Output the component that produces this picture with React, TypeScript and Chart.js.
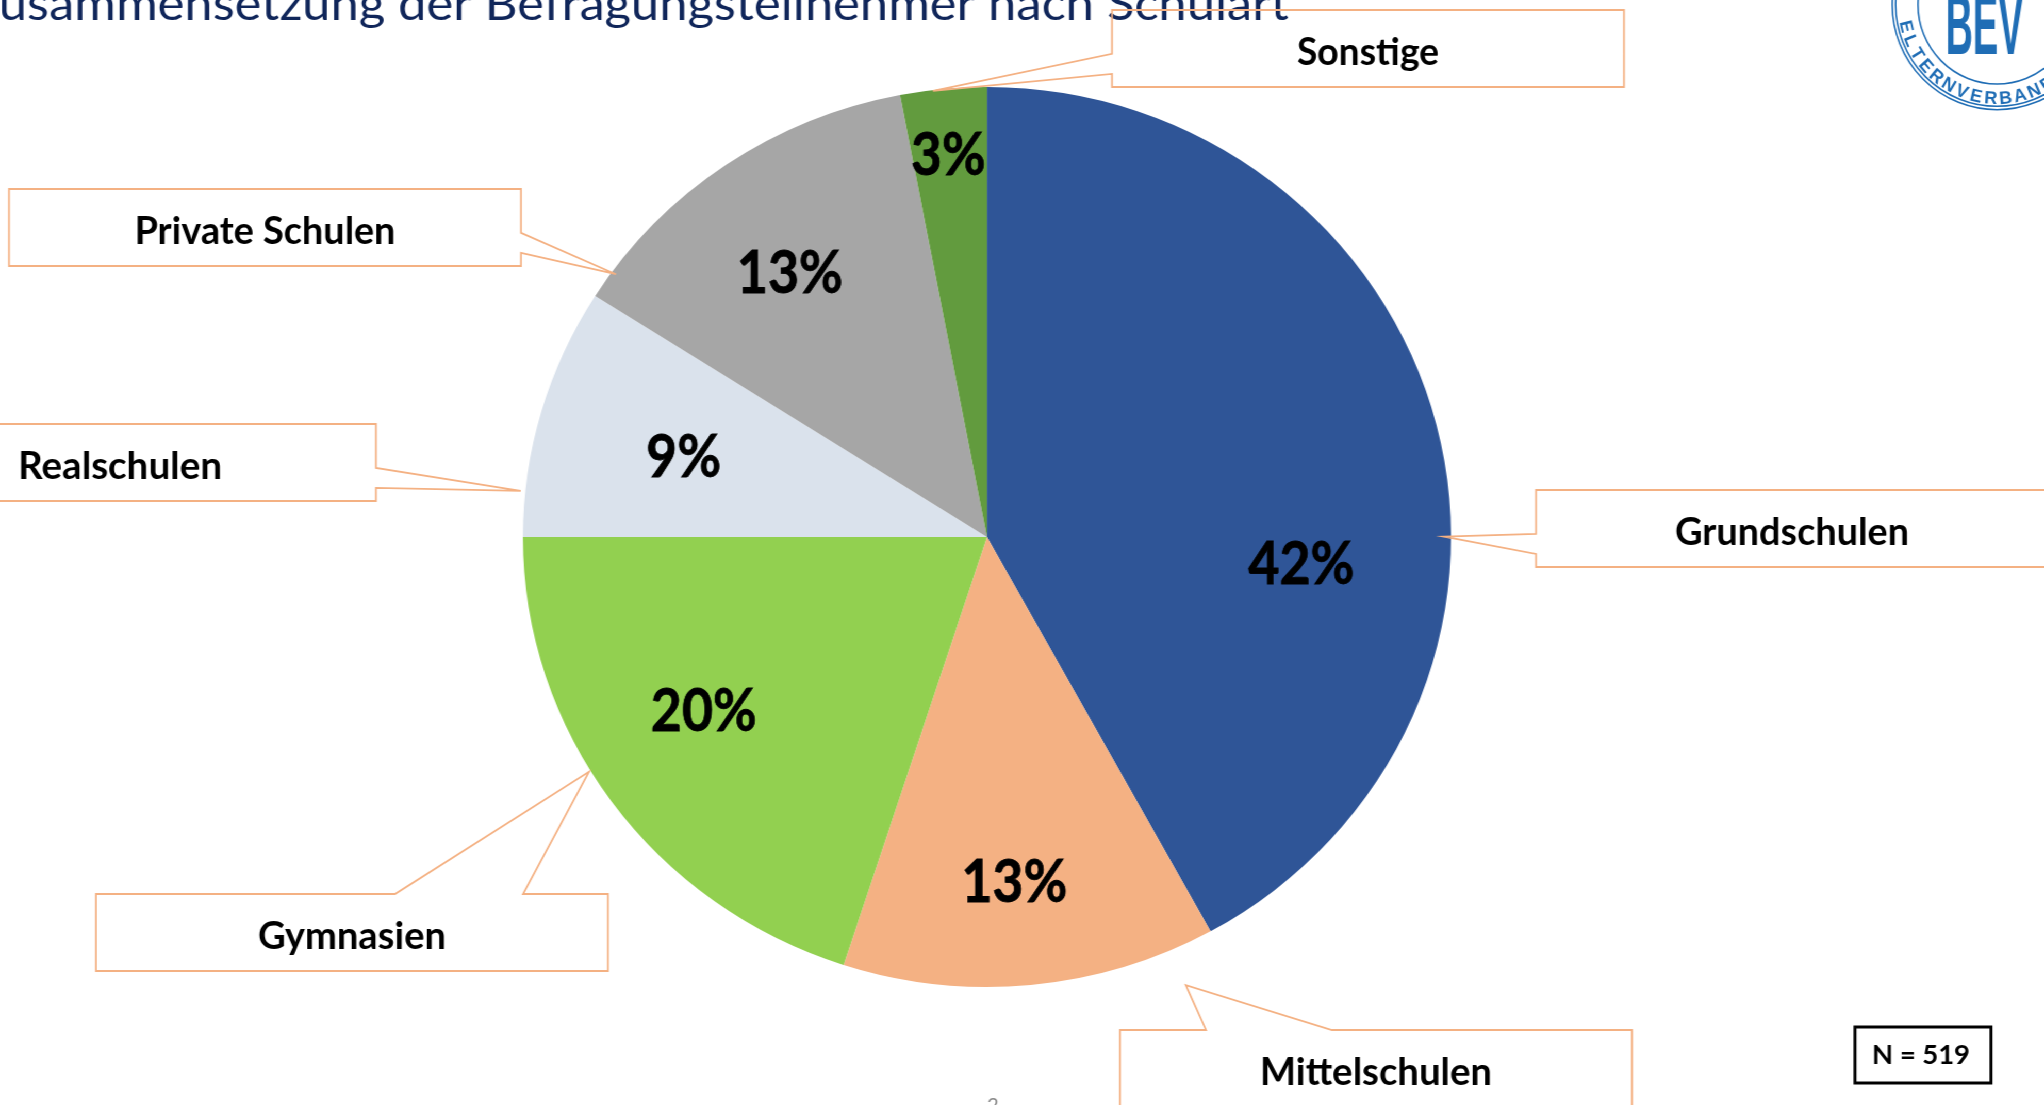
import React, { useEffect, useRef } from 'react';
import { Chart, registerables } from 'chart.js';

Chart.register(...registerables);

// ---------- data ----------
const categories = ['Grundschulen', 'Mittelschulen', 'Gymnasien', 'Realschulen', 'Private Schulen', 'Sonstige'];
const shares = [42, 13, 20, 9, 13, 3];
const sliceColors = ['#2F5597', '#F4B183', '#92D050', '#DAE2EC', '#A6A6A6', '#629B3E'];
const titleText = 'Zusammensetzung der Befragungsteilnehmer nach Schulart';
const sampleLabel = 'N = 519';
const pageNumber = '2';
const logoTitle = 'BEV';
const logoRing = 'ELTERNVERBAND';

// ---------- layout (page pixels) ----------
const PAGE_W = 2044;
const PAGE_H = 1105;
const CANVAS_W = 1982;
const SX = PAGE_W / CANVAS_W; // the slide is slightly stretched horizontally
const PIE_CX = 987;
const PIE_CY = 537;
const PIE_R = 450;

const pctPlacement = [
  { shift: 19.3, r: 0.68 },
  { shift: 1.0, r: 0.767 },
  { shift: 3.8, r: 0.721 },
  { shift: -0.8, r: 0.678 },
  { shift: -1.6, r: 0.726 },
  { shift: -0.2, r: 0.855 },
];

const BOX_W = 512;
const BOX_H = 77;
const callouts = [
  { left: 1536, top: 490, side: 'left', f: [0.57, 0.83], tipFrac: 0.595, tipR: 0.985, textW: 234 },
  { left: 1120, top: 1030, side: 'top', f: [0.168, 0.414], tipFrac: 0.118, tipR: 1.084, textW: 232 },
  { left: 96, top: 894, side: 'top', f: [0.584, 0.834], tipFrac: 0.565, tipR: 1.004, textW: 188 },
  { left: -136, top: 424, side: 'right', f: [0.57, 0.83], tipFrac: 0.18, tipR: 1.01, textW: 204 },
  { left: 9, top: 189, side: 'right', f: [0.57, 0.83], tipFrac: 0.08, tipR: 0.99, textW: 261 },
  { left: 1112, top: 10, side: 'left', f: [0.57, 0.83], tipFrac: 0.38, tipR: 0.998, textW: 142 },
];

const CALLOUT_COLOR = '#F4B183';
const TITLE_COLOR = '#10265A';
const LOGO_BLUE = '#1F6DB5';

function drawFitted(ctx: CanvasRenderingContext2D, text: string, cx: number, baseline: number, font: string, targetW: number, color: string) {
  ctx.save();
  ctx.font = font;
  const w = ctx.measureText(text).width;
  const s = targetW / w;
  ctx.translate(cx, baseline);
  ctx.scale(s, 1);
  ctx.fillStyle = color;
  ctx.textAlign = 'center';
  ctx.textBaseline = 'alphabetic';
  ctx.fillText(text, 0, 0);
  ctx.restore();
}

const decorPlugin = {
  id: 'slideDecor',
  afterDraw(chart: any) {
    const ctx: CanvasRenderingContext2D = chart.ctx;
    ctx.save();
    ctx.scale(1 / SX, 1); // draw in page coordinates

    // Title (left part clipped off the slide)
    ctx.save();
    ctx.font = '400 47px Lato';
    const visible = titleText.slice(1);
    const wVis = ctx.measureText(visible).width;
    const wZ = ctx.measureText(titleText.slice(0, 1)).width;
    const ts = 1290 / wVis;
    ctx.translate(0, 20);
    ctx.scale(ts, 1);
    ctx.fillStyle = TITLE_COLOR;
    ctx.textAlign = 'left';
    ctx.textBaseline = 'alphabetic';
    ctx.fillText(titleText, -wZ, 0);
    ctx.restore();

    // Logo
    ctx.save();
    ctx.strokeStyle = LOGO_BLUE;
    ctx.lineWidth = 1.6;
    [104.7, 101.3, 79].forEach((r) => {
      ctx.beginPath();
      ctx.arc(1997, 5, r, 0, Math.PI * 2);
      ctx.stroke();
    });
    drawFitted(ctx, logoTitle, 1984.5, 54, 'bold 86px "Liberation Sans Narrow", "Liberation Sans"', 78, LOGO_BLUE);
    ctx.font = 'bold 18px "Liberation Sans"';
    ctx.fillStyle = LOGO_BLUE;
    ctx.textAlign = 'center';
    ctx.textBaseline = 'alphabetic';
    const letters = logoRing.split('');
    const a0 = 166.6;
    const a1 = 57.5;
    letters.forEach((ch, i) => {
      const deg = a0 + ((a1 - a0) * i) / (letters.length - 1);
      const th = (deg * Math.PI) / 180;
      ctx.save();
      ctx.translate(1997 + Math.cos(th) * 99, 5 + Math.sin(th) * 99);
      ctx.rotate(th - Math.PI / 2);
      ctx.fillText(ch, 0, 0);
      ctx.restore();
    });
    ctx.restore();

    // Percent labels
    const meta = chart.getDatasetMeta(0);
    ctx.save();
    ctx.font = 'bold 59px Lato';
    const pctScale = 106 / ctx.measureText(`${shares[0]}%`).width;
    const geo = meta.data.map((el: any) =>
      el.getProps(['x', 'y', 'startAngle', 'endAngle', 'outerRadius'], true)
    );
    geo.forEach((g: any, i: number) => {
      const p = pctPlacement[i];
      const a = (g.startAngle + g.endAngle) / 2 + (p.shift * Math.PI) / 180;
      const lx = (g.x + Math.cos(a) * g.outerRadius * p.r) * SX;
      const ly = g.y + Math.sin(a) * g.outerRadius * p.r;
      ctx.save();
      ctx.translate(lx, ly + 21);
      ctx.scale(pctScale, 1);
      ctx.fillStyle = '#000';
      ctx.strokeStyle = '#000';
      ctx.lineWidth = 0.8;
      ctx.textAlign = 'center';
      ctx.textBaseline = 'alphabetic';
      ctx.fillText(`${shares[i]}%`, 0, 0);
      ctx.strokeText(`${shares[i]}%`, 0, 0);
      ctx.restore();
    });
    ctx.restore();

    // Callout boxes with category names
    callouts.forEach((c, i) => {
      const g = geo[i];
      const a = g.startAngle + (g.endAngle - g.startAngle) * c.tipFrac;
      const tx = (g.x + Math.cos(a) * g.outerRadius * c.tipR) * SX;
      const ty = g.y + Math.sin(a) * g.outerRadius * c.tipR;
      const L = c.left, T = c.top, R = c.left + BOX_W, B = c.top + BOX_H;
      ctx.beginPath();
      if (c.side === 'left') {
        ctx.moveTo(L, T);
        ctx.lineTo(R, T);
        ctx.lineTo(R, B);
        ctx.lineTo(L, B);
        ctx.lineTo(L, T + c.f[1] * BOX_H);
        ctx.lineTo(tx, ty);
        ctx.lineTo(L, T + c.f[0] * BOX_H);
        ctx.closePath();
      } else if (c.side === 'right') {
        ctx.moveTo(L, T);
        ctx.lineTo(R, T);
        ctx.lineTo(R, T + c.f[0] * BOX_H);
        ctx.lineTo(tx, ty);
        ctx.lineTo(R, T + c.f[1] * BOX_H);
        ctx.lineTo(R, B);
        ctx.lineTo(L, B);
        ctx.closePath();
      } else {
        ctx.moveTo(L, T);
        ctx.lineTo(L + c.f[0] * BOX_W, T);
        ctx.lineTo(tx, ty);
        ctx.lineTo(L + c.f[1] * BOX_W, T);
        ctx.lineTo(R, T);
        ctx.lineTo(R, B);
        ctx.lineTo(L, B);
        ctx.closePath();
      }
      ctx.strokeStyle = CALLOUT_COLOR;
      ctx.lineWidth = 1.8;
      ctx.lineJoin = 'miter';
      ctx.stroke();
      drawFitted(ctx, categories[i], L + BOX_W / 2, T + 55, 'bold 38px Lato', c.textW, '#000');
    });

    // Sample size box
    ctx.save();
    ctx.strokeStyle = '#000';
    ctx.lineWidth = 3;
    ctx.strokeRect(1855, 1027, 136, 56);
    ctx.restore();
    drawFitted(ctx, sampleLabel, 1921, 1064, 'bold 27px Lato', 98, '#000');

    // Page number (cut at the bottom edge)
    ctx.save();
    ctx.font = '20px Lato';
    ctx.fillStyle = '#8A8A8A';
    ctx.textAlign = 'center';
    ctx.textBaseline = 'top';
    ctx.fillText(pageNumber, 993, 1096);
    ctx.restore();

    ctx.restore();
  },
};

export default function App() {
  const canvasRef = useRef<HTMLCanvasElement | null>(null);

  useEffect(() => {
    document.documentElement.style.overflow = 'hidden';
    document.body.style.margin = '0';
    document.body.style.overflow = 'hidden';
    const canvas = canvasRef.current;
    if (!canvas) return;
    const cxCanvas = PIE_CX / SX;
    const chart = new Chart(canvas, {
      type: 'pie',
      data: {
        labels: categories,
        datasets: [
          {
            data: shares,
            backgroundColor: sliceColors,
            borderWidth: 0,
            hoverOffset: 0,
            offset: 0,
          },
        ],
      },
      options: {
        responsive: false,
        animation: false,
        events: [],
        layout: {
          padding: {
            left: cxCanvas - PIE_R,
            right: CANVAS_W - cxCanvas - PIE_R,
            top: PIE_CY - PIE_R,
            bottom: PAGE_H - PIE_CY - PIE_R,
          },
        },
        plugins: {
          legend: { display: false },
          tooltip: { enabled: false },
          title: { display: false },
        },
      },
      plugins: [decorPlugin],
    } as any);
    return () => chart.destroy();
  }, []);

  return (
    <div
      style={{
        position: 'absolute',
        left: 0,
        top: 0,
        width: CANVAS_W,
        height: PAGE_H,
        background: '#fff',
        transform: `scaleX(${SX})`,
        transformOrigin: '0 0',
        overflow: 'hidden',
      }}
    >
      <canvas ref={canvasRef} width={CANVAS_W} height={PAGE_H} style={{ display: 'block' }} />
    </div>
  );
}
